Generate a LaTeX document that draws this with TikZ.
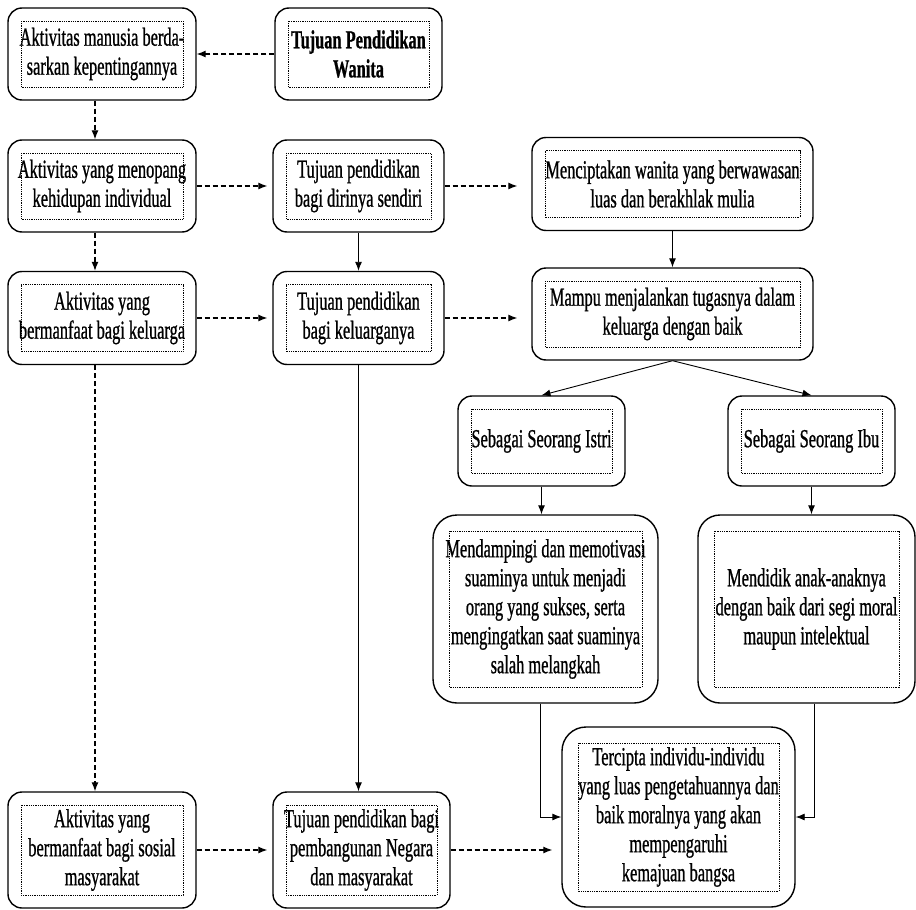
\documentclass[tikz,border=0pt]{standalone}
\usepackage{fontspec}
\setmainfont[FakeStretch=0.63,FakeBold=0.8]{Liberation Serif}
\usetikzlibrary{arrows.meta}
\begin{document}
\begin{tikzpicture}[x=1pt, y=-1pt,
		>={Latex[length=9pt,width=7pt]},
		box/.style={draw, line width=1.4pt, rounded corners=14pt, align=center, inner sep=0pt,
			font=\fontsize{26}{29}\selectfont,
			path picture={\draw [line width=0.6pt, sharp corners, dash pattern=on 0.9pt off 0.9pt]
				([shift={(#1,-#1)}]path picture bounding box.north west) rectangle
				([shift={(-#1,#1)}]path picture bounding box.south east);}},
		box/.default=13pt,
		dline/.style={->, line width=1.2pt, dash pattern=on 5pt off 3pt},
		sline/.style={->, line width=0.9pt}]
			\useasboundingbox (0,0) rectangle (916,910);
			
			% left column
			\node [box, minimum width=188pt, minimum height=92pt] (a1) at (102,54) {Aktivitas manusia berda-\\sarkan kepentingannya};
			\node [box, minimum width=188pt, minimum height=92pt] (a2) at (102,186) {Aktivitas yang menopang\\kehidupan individual};
			\node [box, minimum width=188pt, minimum height=93pt] (a3) at (102,318) {Aktivitas yang\\bermanfaat bagi keluarga};
			\node [box, minimum width=188pt, minimum height=116pt] (a4) at (102,850) {Aktivitas yang\\bermanfaat bagi sosial\\masyarakat};
			
			% middle column
			\node [box, minimum width=167pt, minimum height=92pt] (t0) at (358.5,54) {\bfseries Tujuan Pendidikan\\\bfseries Wanita};
			\node [box, minimum width=171pt, minimum height=92pt] (t1) at (358.5,186) {Tujuan pendidikan\\bagi dirinya sendiri};
			\node [box, minimum width=171pt, minimum height=93pt] (t2) at (358.5,318) {Tujuan pendidikan\\bagi keluarganya};
			\node [box, minimum width=177pt, minimum height=116pt] (t3) at (361.5,850) {Tujuan pendidikan bagi\\pembangunan Negara\\dan masyarakat};
			
			% right part
			\node [box, minimum width=281pt, minimum height=93pt] (m1) at (672.5,184) {Menciptakan wanita yang berwawasan\\luas dan berakhlak mulia};
			\node [box, minimum width=281pt, minimum height=92pt] (m2) at (672.5,314) {Mampu menjalankan tugasnya dalam\\keluarga dengan baik};
			\node [box, minimum width=167pt, minimum height=90pt] (istri) at (541.5,441) {Sebagai Seorang Istri};
			\node [box, minimum width=167pt, minimum height=90pt] (ibu) at (811.5,441) {Sebagai Seorang Ibu};
			\node [box=16pt, rounded corners=24pt, minimum width=225pt, minimum height=188pt] (mend) at (545.5,609) {Mendampingi dan memotivasi\\suaminya untuk menjadi\\orang yang sukses, serta\\mengingatkan saat suaminya\\salah melangkah};
			\node [box=16pt, rounded corners=22pt, minimum width=217pt, minimum height=188pt] (didik) at (806.5,609) {Mendidik anak-anaknya\\dengan baik dari segi moral\\maupun intelektual};
			\node [box=16pt, rounded corners=24pt, minimum width=233pt, minimum height=180pt] (tercipta) at (678.5,817) {Tercipta individu-individu\\yang luas pengetahuannya dan\\baik moralnya yang akan\\mempengaruhi\\kemajuan bangsa};
			
			% dashed links
			\draw [dline] (t0) -- (a1);
			\draw [dline] ([xshift=-7pt]a1.south) -- ([xshift=-7pt]a2.north);
			\draw [dline] ([xshift=-7pt]a2.south) -- ([xshift=-7pt]a3.north);
			\draw [dline] ([xshift=-7pt]a3.south) -- ([xshift=-7pt]a4.north);
			\draw [dline, shorten >=5pt] (a2) -- (t1);
			\draw [dline, shorten >=5pt] (a3) -- (t2);
			\draw [dline, shorten >=5pt] (a4) -- (t3);
			\draw [dline, shorten >=14pt] (t1) -- (t1 -| m1.west);
			\draw [dline, shorten >=14pt] (t2) -- (t2 -| m2.west);
			\draw [dline, shorten >=9pt] (t3) -- (t3 -| tercipta.west);
			
			% solid links
			\draw [sline] (t1) -- (t2);
			\draw [sline] (t2.south) -- (t2.south |- t3.north);
			\draw [sline] (m1) -- (m2);
			\draw [sline] (m2.south) -- (istri.north);
			\draw [sline] (m2.south) -- (ibu.north);
			\draw [sline] (istri.south) -- (istri.south |- mend.north);
			\draw [sline] (ibu.south) -- (ibu.south |- didik.north);
			\draw [sline] ([xshift=-5pt]mend.south) |- (tercipta.west);
			\draw [sline] ([xshift=8pt]didik.south) |- (tercipta.east);
		\end{tikzpicture}
\end{document}
